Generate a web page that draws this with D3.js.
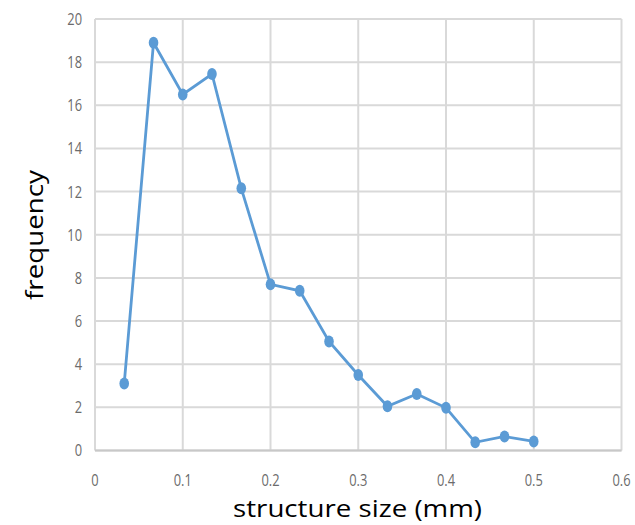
<!DOCTYPE html>
<html><head><meta charset="utf-8">
<script src="https://cdn.jsdelivr.net/npm/d3@7"></script>
<style>body{margin:0;background:#fff}</style>
</head><body>
<script>
const sizes = [0.0333, 0.0667, 0.1, 0.1333, 0.1667, 0.2, 0.2333, 0.2667, 0.3, 0.3333, 0.3667, 0.4, 0.4333, 0.4667, 0.5];
const frequency = [3.1, 18.9, 16.5, 17.45, 12.15, 7.7, 7.4, 5.05, 3.5, 2.05, 2.62, 1.98, 0.38, 0.65, 0.42];
const xTicks = [0, 0.1, 0.2, 0.3, 0.4, 0.5, 0.6];
const yTicks = [0, 2, 4, 6, 8, 10, 12, 14, 16, 18, 20];
const xTitle = "structure size (mm)";
const yTitle = "frequency";

const W = 635, H = 525;
const svg = d3.select("body").append("svg").attr("width", W).attr("height", H);
const x = d3.scaleLinear().domain([0, 0.6]).range([95, 621.5]);
const y = d3.scaleLinear().domain([0, 20]).range([450.5, 19]);

// gridlines
svg.append("g").selectAll("line").data(yTicks).join("line")
  .attr("x1", x(0)).attr("x2", x(0.6))
  .attr("y1", d => y(d)).attr("y2", d => y(d))
  .attr("stroke", "#d9d9d9").attr("stroke-width", 2);
svg.append("g").selectAll("line").data(xTicks).join("line")
  .attr("y1", y(0)).attr("y2", y(20))
  .attr("x1", d => x(d)).attr("x2", d => x(d))
  .attr("stroke", "#d9d9d9").attr("stroke-width", 2);
// bottom axis line
svg.append("line").attr("x1", x(0)).attr("x2", x(0.6)).attr("y1", y(0)).attr("y2", y(0))
  .attr("stroke", "#c8c8c8").attr("stroke-width", 2);

// tick labels
svg.append("g").selectAll("text").data(yTicks).join("text")
  .attr("x", 82).attr("y", d => y(d)).attr("dy", "0.36em")
  .attr("text-anchor", "end")
  .attr("font-family", "Open Sans").attr("font-size", 16.5).attr("fill", "#6b6b6b")
  .attr("transform", d => `translate(82,0) scale(0.78,1) translate(-82,0)`)
  .text(d => d);
svg.append("g").selectAll("text").data(xTicks).join("text")
  .attr("x", d => x(d)).attr("y", 486)
  .attr("text-anchor", "middle")
  .attr("font-family", "Open Sans").attr("font-size", 16.5).attr("fill", "#6b6b6b")
  .attr("transform", d => `translate(${x(d)},0) scale(0.78,1) translate(${-x(d)},0)`)
  .text(d => d);

// axis titles
svg.append("text").attr("x", 233).attr("y", 517)
  .attr("font-family", "Open Sans").attr("font-size", 24).attr("fill", "#000")
  .attr("textLength", 249).attr("lengthAdjust", "spacingAndGlyphs")
  .text(xTitle);
svg.append("text").attr("transform", "translate(43,300) rotate(-90)")
  .attr("font-family", "Open Sans").attr("font-size", 24).attr("fill", "#000")
  .attr("textLength", 130).attr("lengthAdjust", "spacingAndGlyphs")
  .text(yTitle);

// line + markers
const pts = sizes.map((s, i) => [s, frequency[i]]);
svg.append("path").datum(pts)
  .attr("d", d3.line().x(d => x(d[0])).y(d => y(d[1])))
  .attr("fill", "none").attr("stroke", "#5b9bd5").attr("stroke-width", 2.8);
svg.append("g").selectAll("ellipse").data(pts).join("ellipse")
  .attr("cx", d => x(d[0])).attr("cy", d => y(d[1]))
  .attr("rx", 4.8).attr("ry", 6).attr("fill", "#5b9bd5");
</script>
</body></html>
